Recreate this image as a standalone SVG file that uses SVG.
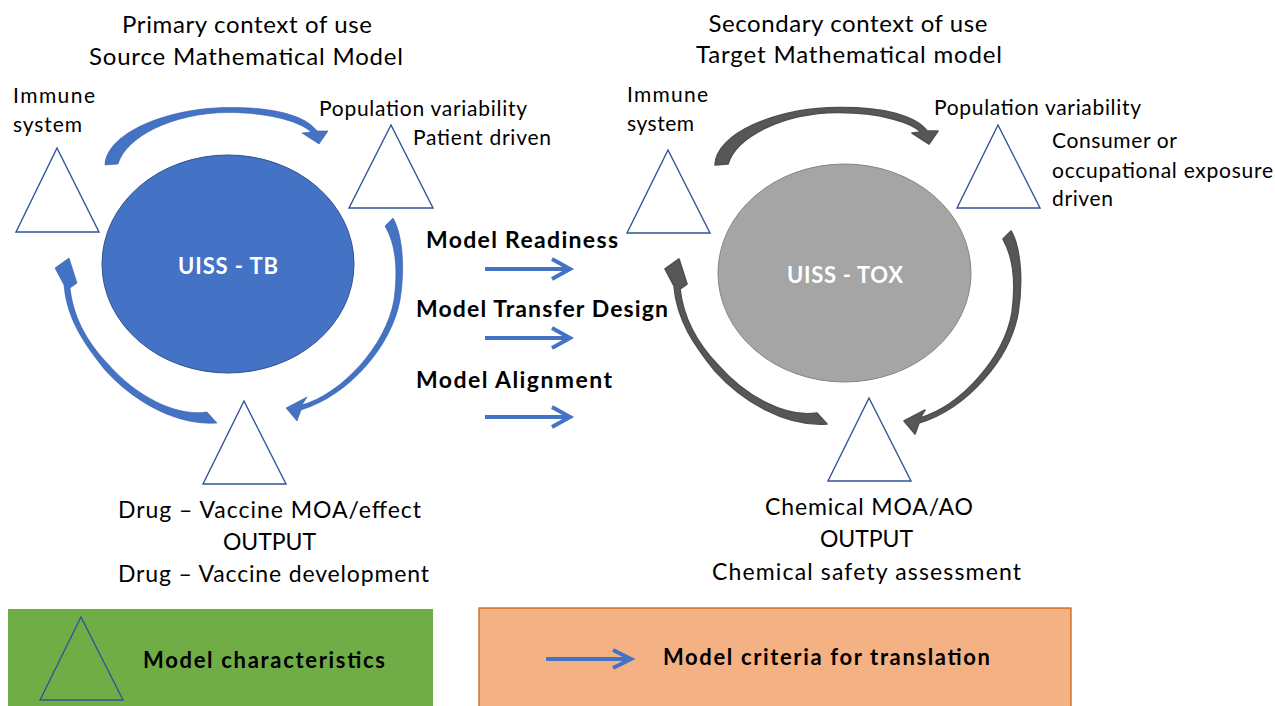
<svg xmlns="http://www.w3.org/2000/svg" xmlns:xlink="http://www.w3.org/1999/xlink" width="1275" height="706" viewBox="0 0 1275 706">
<style>
  text { font-family: Lato, "Liberation Sans", sans-serif; fill: #000; }
  .t24 { font-size: 24px; }
  .t23 { font-size: 23px; }
  .t21 { font-size: 21px; }
  .b22 { font-size: 23px; font-weight: bold; }
  .b21 { font-size: 22px; font-weight: bold; }
  .wt { fill: #ffffff; font-size: 22px; font-weight: bold; }
  .tri { fill: #ffffff; stroke: #2F5597; stroke-width: 1.4; }
  .tri0 { fill: none; stroke: #2F5597; stroke-width: 1.4; }
  .blue { fill: #4472C4; stroke: #3560A8; stroke-width: 0.6; stroke-linejoin: round; }
  .gray { fill: #575757; stroke: #505050; stroke-width: 1.6; stroke-linejoin: round; }
  .crit { fill: none; stroke: #4472C4; stroke-width: 4; }
</style>
<defs>
  <path id="arcA" d="M105,165 C106,134 165,108 228,107.5 C275,107 306,116 317,131 L328,131 L319,144 L302,133 L311,132 C302,123 272,112.5 228,112.5 C172,113 126,137 118,164 Z"/>
  <path id="arcB" d="M393,218 C403,235 405,270 400,300 C392,345 350,395 301,410 L297,421 L286,408 L307,397 L302,405 C343,393 386,345 394,300 C398,270 396,245 385,226 Z"/>
  <path id="arcC" d="M217,423 C175,426 132,400 105,370 C85,345 67,320 64,285 L55,268 L69,258 L77,283 L70,288 C73,315 85,340 108,364 C135,395 175,417 207,412 Z"/>
</defs>

<rect width="1275" height="706" fill="#ffffff"/>

<!-- Titles -->
<text class="t24" x="247" y="33" text-anchor="middle" textLength="250">Primary context of use</text>
<text class="t24" x="246" y="65" text-anchor="middle" textLength="314">Source Mathematical Model</text>
<text class="t24" x="848" y="32" text-anchor="middle" textLength="279">Secondary context of use</text>
<text class="t24" x="849" y="63" text-anchor="middle" textLength="306">Target Mathematical model</text>

<!-- Left model -->
<g id="uiss-tb">
  <ellipse cx="228" cy="264" rx="126" ry="109" fill="#4472C4" stroke="#2F528F" stroke-width="1"/>
  <text class="wt" x="228" y="274" text-anchor="middle" textLength="100">UISS - TB</text>
</g>
<g id="left-immune">
  <polygon class="tri" points="57,148 16,232 99,232"/>
  <text class="t21" x="13" y="103" textLength="82">Immune</text>
  <text class="t21" x="13" y="132" textLength="69">system</text>
</g>
<g id="left-population">
  <polygon class="tri" points="391,125 349,208 433,208"/>
  <text class="t21" x="319" y="116" textLength="208">Population variability</text>
  <text class="t21" x="413" y="145" textLength="138">Patient driven</text>
</g>
<g id="left-output">
  <polygon class="tri" points="244,401 203,484 286,484"/>
  <text class="t23" x="118" y="518" textLength="303">Drug – Vaccine MOA/effect</text>
  <text class="t23" x="223" y="550" textLength="93">OUTPUT</text>
  <text class="t23" x="118" y="582" textLength="311">Drug – Vaccine development</text>
</g>

<!-- Right model -->
<g id="uiss-tox">
  <ellipse cx="844.5" cy="273" rx="126.5" ry="109" fill="#A5A5A5" stroke="#858585" stroke-width="1"/>
  <text class="wt" x="845" y="283" text-anchor="middle" textLength="116">UISS - TOX</text>
</g>
<g id="right-immune">
  <polygon class="tri" points="668,150 627,233 710,233"/>
  <text class="t21" x="627" y="102" textLength="81">Immune</text>
  <text class="t21" x="627" y="131" textLength="67">system</text>
</g>
<g id="right-population">
  <polygon class="tri" points="998,125 957,208 1040,208"/>
  <text class="t21" x="934" y="115" textLength="207">Population variability</text>
  <text class="t21" x="1052" y="148" textLength="125">Consumer or</text>
  <text class="t21" x="1052" y="178" textLength="221">occupational exposure</text>
  <text class="t21" x="1052" y="206" textLength="61">driven</text>
</g>
<g id="right-output">
  <polygon class="tri" points="869,398 828,481 911,481"/>
  <text class="t23" x="765" y="515" textLength="208">Chemical MOA/AO</text>
  <text class="t23" x="820" y="547" textLength="93">OUTPUT</text>
  <text class="t23" x="712" y="580" textLength="309">Chemical safety assessment</text>
</g>

<!-- Criteria labels -->
<g id="criteria">
  <text class="b22" x="426" y="248" textLength="192">Model Readiness</text>
  <text class="b22" x="416" y="317" textLength="252">Model Transfer Design</text>
  <text class="b22" x="416" y="388" textLength="196">Model Alignment</text>
</g>

<!-- Connectors -->
<g id="connectors">
  <use xlink:href="#arcA" class="blue"/>
  <use xlink:href="#arcB" class="blue"/>
  <use xlink:href="#arcC" class="blue"/>
  <use xlink:href="#arcA" class="gray" transform="translate(610,0)"/>
  <use xlink:href="#arcB" class="gray" transform="translate(618,13)"/>
  <use xlink:href="#arcC" class="gray" transform="translate(610,1)"/>
  <line class="crit" x1="485" y1="269" x2="568" y2="269"/>
  <polyline class="crit" points="552,259 570,269 552,279"/>
  <line class="crit" x1="485" y1="338" x2="568" y2="338"/>
  <polyline class="crit" points="552,328 570,338 552,348"/>
  <line class="crit" x1="485" y1="417" x2="568" y2="417"/>
  <polyline class="crit" points="552,407 570,417 552,427"/>
</g>

<!-- Legend -->
<g id="legend-characteristics">
  <rect x="8" y="609" width="425" height="100" fill="#70AD47"/>
  <polygon class="tri0" points="81,617 40,700 123,700"/>
  <text class="b21" x="143" y="668" textLength="242">Model characteristics</text>
</g>
<g id="legend-criteria">
  <rect x="479" y="608" width="592" height="101" fill="#F4B183" stroke="#C55A11" stroke-width="1.2"/>
  <line class="crit" x1="546" y1="659" x2="630" y2="659"/>
  <polyline class="crit" points="613,650 631,659 613,668"/>
  <text class="b21" x="663" y="665" textLength="327">Model criteria for translation</text>
</g>
</svg>
